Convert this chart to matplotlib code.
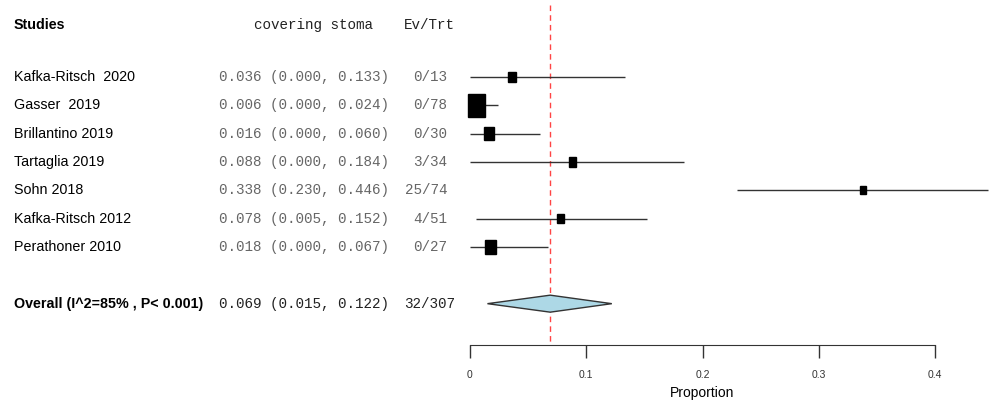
import matplotlib.pyplot as plt
from matplotlib.patches import Rectangle, Polygon
from matplotlib.transforms import blended_transform_factory
import numpy as np

studies = ["Kafka-Ritsch  2020", "Gasser  2019", "Brillantino 2019", "Tartaglia 2019",
           "Sohn 2018", "Kafka-Ritsch 2012", "Perathoner 2010"]
est = [0.036, 0.006, 0.016, 0.088, 0.338, 0.078, 0.018]
lo = [0.000, 0.000, 0.000, 0.000, 0.230, 0.005, 0.000]
hi = [0.133, 0.024, 0.060, 0.184, 0.446, 0.152, 0.067]
events = ["0/13", "0/78", "0/30", "3/34", "25/74", "4/51", "0/27"]
weights = [9.0, 40.8, 14.1, 6.9, 5.1, 6.9, 17.1]

overall_label = "Overall (I^2=85% , P< 0.001)"
overall_est, overall_lo, overall_hi = 0.069, 0.015, 0.122
overall_events = "32/307"
xticks = [0, 0.1, 0.2, 0.3, 0.4]

W, H = 992, 407
fig = plt.figure(figsize=(W / 100, H / 100), dpi=100)
ax = fig.add_axes([0, 0, 1, 1])

# scale: 0 -> px 470, 0.4 -> px 935 ; rows: row 1 -> px 77, row 7 -> px 247
pxu = (935 - 470) / 0.4
pxr = (247 - 77) / 6
ax.set_xlim(-470 / pxu, (W - 470) / pxu)
ax.set_ylim(1 + (H - 77) / pxr, 1 - 77 / pxr)

rows = np.arange(1, len(studies) + 1)
row_ov = 9
row_head = 1 + (25 - 77) / pxr
row_axis = 1 + (345 - 77) / pxr

tr = blended_transform_factory(fig.transFigure, ax.transData)
sans = "Liberation Sans"
mono = "Liberation Mono"

# header
ax.text(14 / W, row_head, "Studies", transform=tr, fontsize=10.3, family=sans,
        fontweight="bold", va="center")
ax.text(313 / W, row_head, "covering stoma", transform=tr, fontsize=10.3, family=mono,
        color="#222222", va="center", ha="center")
ax.text(455 / W, row_head, "Ev/Trt", transform=tr, fontsize=10.3, family=mono,
        color="#222222", va="center", ha="right")

for i, r in enumerate(rows):
    ax.text(14 / W, r, studies[i], transform=tr, fontsize=10.3, family=sans, va="center")
    ax.text(219 / W, r, "%.3f (%.3f, %.3f)" % (est[i], lo[i], hi[i]), transform=tr,
            fontsize=10.3, family=mono, color="#666666", va="center")
    ax.text(447 / W, r, events[i], transform=tr, fontsize=10.3, family=mono,
            color="#666666", va="center", ha="right")
    ax.plot([lo[i], hi[i]], [r, r], color="#333333", lw=1, solid_capstyle="butt")
    side = 17 * np.sqrt(weights[i] / max(weights))
    bw = side / pxu
    bh = side * 1.35 / pxr
    ax.add_patch(Rectangle((est[i] - bw / 2, r - bh / 2), bw, bh, color="black", zorder=3))

ax.text(14 / W, row_ov, overall_label, transform=tr, fontsize=10.3, family=sans,
        fontweight="bold", va="center")
ax.text(219 / W, row_ov, "%.3f (%.3f, %.3f)" % (overall_est, overall_lo, overall_hi),
        transform=tr, fontsize=10.3, family=mono, color="#222222", va="center")
ax.text(455 / W, row_ov, overall_events, transform=tr, fontsize=10.3, family=mono,
        color="#222222", va="center", ha="right")

dh = 8.5 / pxr
ax.add_patch(Polygon([(overall_lo, row_ov), (overall_est, row_ov - dh),
                      (overall_hi, row_ov), (overall_est, row_ov + dh)],
                     closed=True, facecolor="#ADD8E6", edgecolor="#333333", lw=1, zorder=3))

ax.plot([overall_est, overall_est], [1 + (5 - 77) / pxr, row_axis], color="#FF4444",
        lw=1, ls=(0, (4, 3)), zorder=1)

# x axis
for s in ["left", "right", "top"]:
    ax.spines[s].set_visible(False)
ax.spines["bottom"].set_position(("data", row_axis))
ax.spines["bottom"].set_bounds(xticks[0], xticks[-1])
ax.spines["bottom"].set_color("#333333")
ax.set_yticks([])
ax.set_xticks(xticks)
ax.set_xticklabels([("%g" % t) for t in xticks])
ax.tick_params(axis="x", direction="out", length=9, width=1, color="#333333",
               labelsize=7.5, labelcolor="#333333", pad=9)
for lab in ax.get_xticklabels():
    lab.set_family(sans)
ax.patch.set_visible(False)
ax.text(702 / W, 1 + (393 - 77) / pxr, "Proportion", transform=tr, fontsize=10,
        family=sans, ha="center", va="center")

fig.savefig("out.png", dpi=100)
